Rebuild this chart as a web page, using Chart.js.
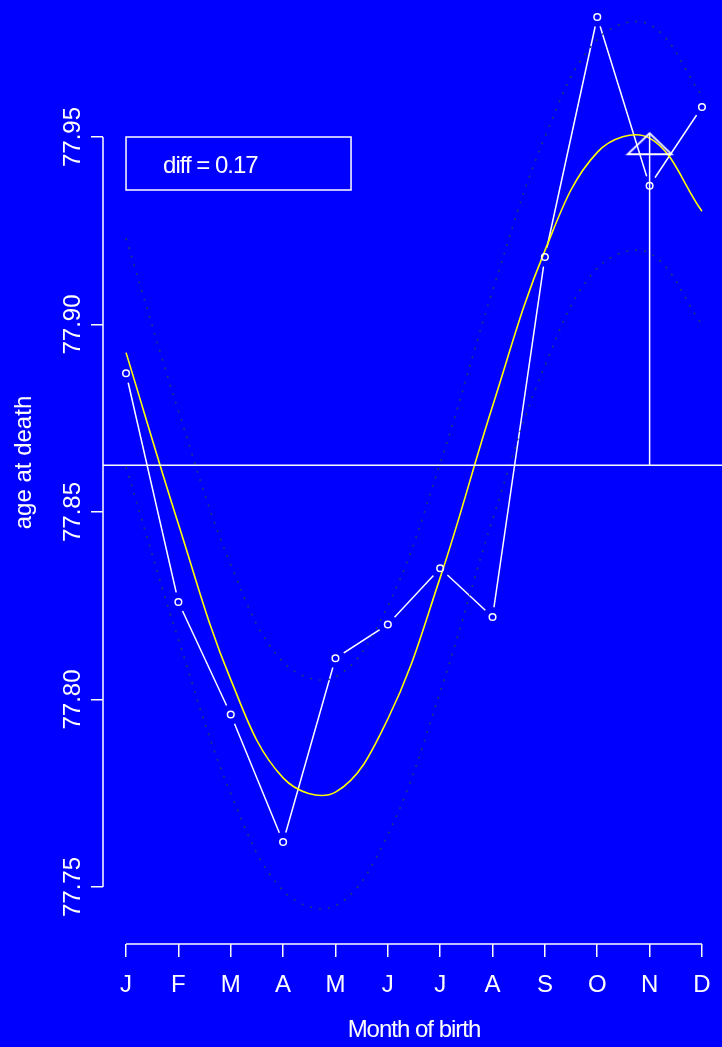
<!DOCTYPE html>
<html>
<head>
<meta charset="utf-8">
<title>Age at death by month of birth</title>
<script src="https://cdn.jsdelivr.net/npm/chart.js@4/dist/chart.umd.min.js"></script>
<style>
  html, body { margin: 0; padding: 0; background: #0000ff; overflow: hidden; width: 722px; height: 1047px; }
  #wrap { position: absolute; left: 0; top: -19px; width: 725px; height: 1066px; }
</style>
</head>
<body>
<div id="wrap"><canvas id="c" width="725" height="1066"></canvas></div>
<script>
// Month labels (x axis) and observed mean age at death per birth month
const months = ['J', 'F', 'M', 'A', 'M', 'J', 'J', 'A', 'S', 'O', 'N', 'D'];
const ageAtDeath = [77.887, 77.826, 77.796, 77.762, 77.811, 77.820, 77.835, 77.822, 77.918, 77.982, 77.937, 77.958];

// Fitted seasonal curve and its dotted band, per month
const fitted    = [77.8925, 77.8468, 77.8053, 77.7791, 77.7753, 77.7948, 77.8325, 77.8782, 77.9197, 77.9459, 77.9497, 77.9302];
const upperBand = [77.923, 77.877, 77.836, 77.810, 77.806, 77.825, 77.863, 77.909, 77.950, 77.976, 77.980, 77.961];
const lowerBand = [77.862, 77.816, 77.775, 77.749, 77.745, 77.764, 77.802, 77.848, 77.889, 77.915, 77.919, 77.900];

// Overall mean, the peak of the fitted curve and where it is marked
const meanAge = 77.8625;
const peakMonth = 11;
const peakAge = 77.951;

// Axis ticks and annotation text
const yTicks = [77.75, 77.80, 77.85, 77.90, 77.95];
const diffLabel = 'diff = 0.17';
const yTitle = 'age at death';
const xTitle = 'Month of birth';

const FONT = "'Liberation Sans', Arial, Helvetica, sans-serif";
const WHITE = '#ffffff';
const BG = '#0000ff';

Chart.defaults.font.family = FONT;
Chart.defaults.font.size = 24;
Chart.defaults.color = WHITE;

const monthNums = months.map((m, i) => i + 1);
const toXY = (vals) => vals.map((v, i) => ({ x: monthNums[i], y: v }));

// Open triangle used to mark the peak (apex sits on the point)
function peakMarker() {
  const c = document.createElement('canvas');
  c.width = 50; c.height = 50;
  const g = c.getContext('2d');
  g.strokeStyle = WHITE;
  g.lineWidth = 1.8;
  g.beginPath();
  g.moveTo(25, 25);
  g.lineTo(3, 46);
  g.lineTo(47, 46);
  g.closePath();
  g.stroke();
  return c;
}

// Axis boxes keep their fixed size and add no extra padding to the plot area
function fixBox(size) {
  return (s) => {
    if (s.isHorizontal()) s.height = size; else s.width = size;
    s.paddingTop = 0; s.paddingBottom = 0; s.paddingLeft = 0; s.paddingRight = 0;
  };
}

// Draws the R-style axis spines (first to last tick) and the boxed note
const rStyleAxes = {
  id: 'rStyleAxes',
  beforeDraw(chart) {
    // slightly tighter lettering for the x-axis title
    const sx = chart.scales.x;
    if (sx && !sx._tightTitle) {
      const drawTitle = sx.drawTitle;
      sx.drawTitle = function () {
        this.ctx.save();
        this.ctx.letterSpacing = '-1px';
        drawTitle.call(this);
        this.ctx.restore();
      };
      sx._tightTitle = true;
    }
  },
  afterDraw(chart) {
    const { ctx, scales: { x, y } } = chart;
    ctx.save();
    ctx.strokeStyle = WHITE;
    ctx.lineWidth = 1.5;
    ctx.beginPath();
    ctx.moveTo(y.right, y.getPixelForValue(yTicks[0]));
    ctx.lineTo(y.right, y.getPixelForValue(yTicks[yTicks.length - 1]));
    ctx.stroke();
    ctx.beginPath();
    ctx.moveTo(x.getPixelForValue(monthNums[0]), x.top);
    ctx.lineTo(x.getPixelForValue(monthNums[monthNums.length - 1]), x.top);
    ctx.stroke();

    const bx = x.getPixelForValue(monthNums[0]);
    const by = y.getPixelForValue(yTicks[yTicks.length - 1]);
    ctx.strokeRect(bx, by, 225, 53);
    ctx.fillStyle = WHITE;
    ctx.font = '24px ' + FONT;
    ctx.textBaseline = 'alphabetic';
    ctx.textAlign = 'left';
    ctx.letterSpacing = '-1px';
    ctx.fillText(diffLabel, bx + 37, by + 36);
    ctx.restore();
  }
};

const xMin = 0.56, xMax = 12.44;

new Chart(document.getElementById('c'), {
  type: 'line',
  data: {
    datasets: [
      { // connecting lines of the observed means
        data: toXY(ageAtDeath), borderColor: WHITE, borderWidth: 1.5,
        pointRadius: 0, tension: 0, order: 10
      },
      { // gaps around each observation
        data: toXY(ageAtDeath), showLine: false, pointRadius: 10,
        pointBackgroundColor: BG, pointBorderWidth: 0, order: 9
      },
      {
        data: toXY(upperBand), borderColor: '#1d3a78', borderWidth: 1.6,
        borderDash: [2, 7], pointRadius: 0, tension: 0.38, order: 8
      },
      {
        data: toXY(lowerBand), borderColor: '#1d3a78', borderWidth: 1.6,
        borderDash: [2, 7], pointRadius: 0, tension: 0.38, order: 8
      },
      {
        data: toXY(fitted), borderColor: '#ffff00', borderWidth: 1.6,
        pointRadius: 0, tension: 0.38, order: 7
      },
      { // overall mean
        data: [{ x: xMin, y: meanAge }, { x: xMax, y: meanAge }],
        borderColor: WHITE, borderWidth: 1.5, pointRadius: 0, order: 6
      },
      { // mean to peak
        data: [{ x: peakMonth, y: meanAge }, { x: peakMonth, y: peakAge }],
        borderColor: WHITE, borderWidth: 1.5, pointRadius: 0, order: 6
      },
      {
        data: [{ x: peakMonth, y: peakAge }], showLine: false,
        pointStyle: peakMarker(), pointRadius: 20, order: 5
      },
      { // observations
        data: toXY(ageAtDeath), showLine: false, pointRadius: 3.3,
        pointBorderColor: WHITE, pointBorderWidth: 1.5,
        pointBackgroundColor: 'rgba(0,0,0,0)', order: 1
      }
    ]
  },
  options: {
    responsive: false,
    animation: false,
    events: [],
    layout: { padding: 0, autoPadding: false },
    plugins: { legend: { display: false }, tooltip: { enabled: false } },
    scales: {
      x: {
        type: 'linear', min: xMin, max: xMax,
        afterBuildTicks: (s) => { s.ticks = monthNums.map((v) => ({ value: v })); },
        afterFit: fixBox(103),
        grid: { display: true, drawOnChartArea: false, drawTicks: true, tickLength: 13, color: WHITE, lineWidth: 1.5 },
        border: { display: false },
        ticks: {
          color: WHITE, font: { size: 24 }, padding: 14, autoSkip: false,
          minRotation: 0, maxRotation: 0,
          callback: (v, i) => months[i]
        },
        title: { display: true, text: xTitle, color: WHITE, font: { size: 24 }, padding: { top: 0, bottom: 2 } }
      },
      y: {
        type: 'linear', min: 77.7348, max: 77.9916,
        afterBuildTicks: (s) => { s.ticks = yTicks.map((v) => ({ value: v })); },
        afterFit: fixBox(103),
        grid: { display: true, drawOnChartArea: false, drawTicks: true, tickLength: 12, color: WHITE, lineWidth: 1.5 },
        border: { display: false },
        ticks: {
          color: WHITE, font: { size: 24 }, padding: -12, crossAlign: 'center',
          minRotation: 90, maxRotation: 90,
          callback: (v) => Number(v).toFixed(2)
        },
        title: { display: true, text: yTitle, color: WHITE, font: { size: 24 }, padding: { top: 10, bottom: 0 } }
      }
    }
  },
  plugins: [rStyleAxes]
});
</script>
</body>
</html>
